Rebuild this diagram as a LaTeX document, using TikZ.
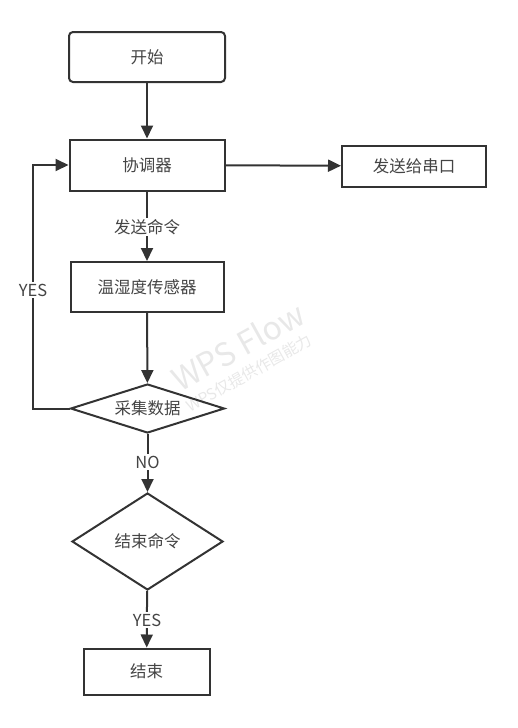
\documentclass[tikz,border=0pt]{standalone}
\usepackage{fontspec}
\setmainfont{Noto Sans CJK SC}
\usepackage{xcolor}
\definecolor{Col1}{RGB}{51,51,51}
\definecolor{Col2}{RGB}{68,68,68}
\usetikzlibrary{shapes.geometric}
\usetikzlibrary{arrows.meta}
\tikzstyle{Box}=[rectangle,draw=Col1,line width=2pt,text=Col2,
font=\fontsize{16.5}{19}\selectfont,inner sep=0pt]
\tikzstyle{Start}=[Box,rounded corners=4pt]
\tikzstyle{Decision}=[diamond,draw=Col1,line width=2pt,text=Col2,
font=\fontsize{16.5}{19}\selectfont,inner sep=0pt,aspect=3]
\tikzstyle{Edge}=[draw=Col1,line width=2pt,-{Triangle[length=13pt,width=12pt]}]
\tikzstyle{EdgeLabel}=[fill=white,text=Col2,font=\fontsize{16.5}{19}\selectfont,
inner sep=1.5pt]
\tikzstyle{Mark}=[text=black!9,rotate=29,inner sep=0pt]

\begin{document}
\begin{tikzpicture}[x=1pt,y=-1pt]
        \useasboundingbox(0,0)rectangle(518,728);
        % watermark
        \node[Mark,font=\fontsize{32}{36}\selectfont](wm)at(238,346){WPS Flow};
        \node[Mark,font=\fontsize{15.5}{17}\selectfont](wms)at(249,373){WPS仅提供作图能力};
        % boxes
        \node[Start,minimum width=156pt,minimum height=50pt](start)at(147,57){开始};
        \node[Box,minimum width=155pt,minimum height=51pt](coord)at(147,165){协调器};
        \node[Box,minimum width=144pt,minimum height=41pt](uart)at(414,166){发送给串口};
        \node[Box,minimum width=153pt,minimum height=50pt](sensor)at(147,287){温湿度传感器};
        \node[Decision,minimum width=154pt,minimum height=49pt](collect)at(147.5,408.5){采集数据};
        \node[Decision,minimum width=151pt,minimum height=97pt](endcmd)at(147.5,541.5){结束命令};
        \node[Box,minimum width=126pt,minimum height=46pt](end)at(146.5,671.5){结束};
        % connectors
        \draw[Edge](start)--(coord);
        \draw[Edge](coord)--(uart);
        \draw[Edge](coord)--(sensor);
        \node[EdgeLabel](send)at(147,227){发送命令};
        \draw[Edge](sensor)--(collect);
        \coordinate(c1)at(33,408.5);
        \coordinate(c2)at(33,165);
        \draw[Edge](collect.west)--(c1)--(c2)--(coord.west);
        \node[EdgeLabel](yes1)at(33,290){YES};
        \draw[Edge](collect)--(endcmd);
        \node[EdgeLabel](no)at(147.5,462){NO};
        \draw[Edge](endcmd)--(end);
        \node[EdgeLabel](yes2)at(147,620){YES};
    \end{tikzpicture}
\end{document}
